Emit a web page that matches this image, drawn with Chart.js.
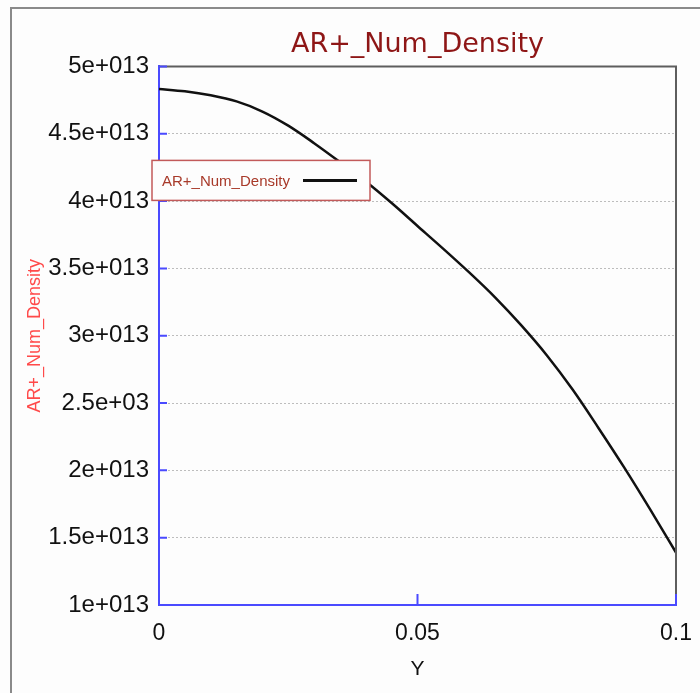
<!DOCTYPE html>
<html>
<head>
<meta charset="utf-8">
<title>AR+_Num_Density</title>
<script src="https://cdn.jsdelivr.net/npm/chart.js@4/dist/chart.umd.min.js"></script>
<style>
    body { margin: 0; background: #fdfdfd; }
    #wrap { width: 700px; height: 693px; }
</style>
</head>
<body>
<div id="wrap"><canvas id="chart" width="700" height="693"></canvas></div>
<script>
// --- Data ---
const seriesLabel = 'AR+_Num_Density';
const yPositions = [0, 0.005, 0.01, 0.015, 0.02, 0.025, 0.03, 0.035, 0.04, 0.045, 0.05,
                    0.055, 0.06, 0.065, 0.07, 0.075, 0.08, 0.085, 0.09, 0.095, 0.1];
const densityValues = [4.833e13, 4.815e13, 4.785e13, 4.74e13, 4.665e13, 4.56e13, 4.43e13,
                       4.29e13, 4.145e13, 3.985e13, 3.815e13, 3.645e13, 3.47e13, 3.285e13,
                       3.08e13, 2.855e13, 2.60e13, 2.315e13, 2.02e13, 1.71e13, 1.39e13];

const xTickValues = [0, 0.05, 0.1];
const xTickLabels = ['0', '0.05', '0.1'];
const yTickValues = [1e13, 1.5e13, 2e13, 2.5e13, 3e13, 3.5e13, 4e13, 4.5e13, 5e13];
const yTickLabels = ['1e+013', '1.5e+013', '2e+013', '2.5e+03', '3e+013',
                     '3.5e+013', '4e+013', '4.5e+013', '5e+013'];

const axisBlue = '#4a4aff';
const frameGray = '#5e5e5e';

// frame, inward tick marks and the in-plot legend box
const decorPlugin = {
    id: 'decor',
    beforeDraw(chart) {
        const ctx = chart.ctx;
        ctx.save();
        ctx.fillStyle = '#fdfdfd';
        ctx.fillRect(0, 0, chart.width, chart.height);
        // outer window frame
        ctx.strokeStyle = '#8a8a8a';
        ctx.lineWidth = 2;
        ctx.beginPath();
        ctx.moveTo(11, chart.height);
        ctx.lineTo(11, 8);
        ctx.lineTo(chart.width, 8);
        ctx.stroke();
        ctx.restore();
    },
    afterDatasetsDraw(chart) {
        const { ctx, chartArea: a, scales } = chart;
        ctx.save();
        // top and right frame
        ctx.strokeStyle = frameGray;
        ctx.lineWidth = 2;
        ctx.beginPath();
        ctx.moveTo(a.left, a.top);
        ctx.lineTo(a.right, a.top);
        ctx.lineTo(a.right, a.bottom);
        ctx.stroke();

        // inward ticks
        ctx.strokeStyle = axisBlue;
        ctx.lineWidth = 2;
        ctx.beginPath();
        yTickValues.forEach(v => {
            const y = scales.y.getPixelForValue(v);
            ctx.moveTo(a.left, y);
            ctx.lineTo(a.left + 8, y);
        });
        xTickValues.forEach(v => {
            const x = scales.x.getPixelForValue(v);
            ctx.moveTo(x, a.bottom);
            ctx.lineTo(x, a.bottom - 11);
        });
        ctx.stroke();

        // legend box
        const bx = a.left - 7, by = a.top + 94, bw = 218, bh = 40;
        ctx.fillStyle = '#fdfdfd';
        ctx.fillRect(bx, by, bw, bh);
        ctx.strokeStyle = '#c25a5a';
        ctx.lineWidth = 1.5;
        ctx.strokeRect(bx, by, bw, bh);
        ctx.fillStyle = '#a83a2a';
        ctx.font = '15px "Liberation Sans", Arial, sans-serif';
        ctx.textBaseline = 'middle';
        ctx.fillText(seriesLabel, bx + 10, by + bh / 2 + 1);
        ctx.strokeStyle = '#111';
        ctx.lineWidth = 3;
        ctx.beginPath();
        ctx.moveTo(bx + 151, by + bh / 2);
        ctx.lineTo(bx + 205, by + bh / 2);
        ctx.stroke();
        ctx.restore();
    }
};

new Chart(document.getElementById('chart'), {
    type: 'line',
    data: {
        datasets: [{
            label: seriesLabel,
            data: yPositions.map((x, i) => ({ x, y: densityValues[i] })),
            borderColor: '#111',
            borderWidth: 2.5,
            pointRadius: 0,
            cubicInterpolationMode: 'monotone',
            fill: false
        }]
    },
    options: {
        responsive: false,
        animation: false,
        layout: { padding: { left: 0, right: 24, top: 0, bottom: 0 } },
        plugins: {
            legend: { display: false },
            tooltip: { enabled: false },
            title: {
                display: true,
                fullSize: false,
                text: seriesLabel,
                color: '#8e1616',
                font: { family: '"DejaVu Sans", Verdana, sans-serif', size: 27, weight: 'normal' },
                padding: { top: 29, bottom: 5 }
            }
        },
        scales: {
            x: {
                type: 'linear',
                min: 0,
                max: 0.1,
                afterBuildTicks: s => { s.ticks = xTickValues.map(v => ({ value: v })); },
                afterFit: s => { s.height = 88; s.paddingLeft = 0; s.paddingRight = 0; },
                ticks: {
                    color: '#111',
                    padding: 15,
                    maxRotation: 0,
                    font: { family: '"Liberation Sans", Arial, sans-serif', size: 23 },
                    callback: (v, i) => xTickLabels[i]
                },
                grid: { display: false, drawTicks: false },
                border: { display: true, color: axisBlue, width: 2 },
                title: {
                    display: true,
                    text: 'Y',
                    color: '#111',
                    font: { family: '"Liberation Sans", Arial, sans-serif', size: 21 },
                    padding: { top: 0, bottom: 11 }
                }
            },
            y: {
                type: 'linear',
                min: 1e13,
                max: 5e13,
                afterBuildTicks: s => { s.ticks = yTickValues.map(v => ({ value: v })); },
                afterFit: s => { s.width = 159; },
                ticks: {
                    color: '#111',
                    padding: 10,
                    font: { family: '"Liberation Sans", Arial, sans-serif', size: 24 },
                    callback: (v, i) => yTickLabels[i]
                },
                grid: {
                    drawTicks: false,
                    color: '#bdbdbd',
                    lineWidth: 1
                },
                border: { display: true, color: axisBlue, width: 2, dash: [2, 2] },
                title: {
                    display: true,
                    text: seriesLabel,
                    color: '#ff4a4a',
                    font: { family: '"Liberation Sans", Arial, sans-serif', size: 18 },
                    padding: { top: 24, bottom: 0 }
                }
            }
        }
    },
    plugins: [decorPlugin]
});
</script>
</body>
</html>
